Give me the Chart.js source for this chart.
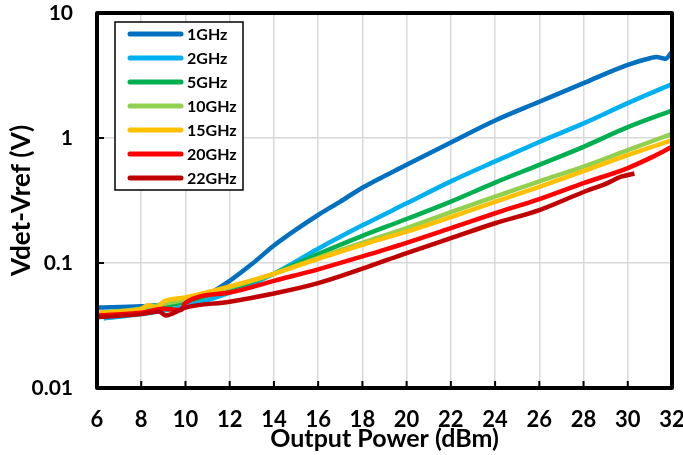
<!DOCTYPE html>
<html>
<head>
<meta charset="utf-8">
<script src="https://cdn.jsdelivr.net/npm/chart.js@4"></script>
<style>
  html, body { margin: 0; padding: 0; background: #fff; }
  #wrap { width: 683px; height: 455px; }
</style>
</head>
<body>
<div id="wrap"><canvas id="chart" width="683" height="455"></canvas></div>
<script>
const seriesNames = ['1GHz', '2GHz', '5GHz', '10GHz', '15GHz', '20GHz', '22GHz'];
const seriesColors = ['#0070C0', '#00B0F0', '#00B050', '#92D050', '#FFC000', '#FF0000', '#C00000'];

// output power (dBm) and Vdet-Vref (V) for each frequency
const p1 = [6, 8, 10, 11, 12, 13, 14, 15, 16, 17, 18, 20, 22, 24, 26, 28, 30, 31, 31.3, 31.7, 32];
const v1 = [0.044, 0.045, 0.049, 0.056, 0.072, 0.098, 0.138, 0.185, 0.242, 0.31, 0.40, 0.61, 0.92, 1.38, 1.95, 2.75, 3.85, 4.35, 4.45, 4.3, 4.9];

const p2 = [6.3, 8, 10, 12, 14, 16, 18, 20, 22, 24, 26, 28, 30, 32];
const v2 = [0.036, 0.039, 0.045, 0.058, 0.082, 0.13, 0.2, 0.3, 0.45, 0.65, 0.93, 1.31, 1.9, 2.7];

const p5 = [6, 8, 10, 12, 14, 16, 18, 20, 22, 24, 26, 28, 30, 32];
const v5 = [0.039, 0.042, 0.049, 0.062, 0.082, 0.118, 0.165, 0.225, 0.31, 0.44, 0.61, 0.85, 1.22, 1.66];

const p10 = [6, 8, 9, 10, 12, 14, 16, 18, 20, 22, 24, 26, 28, 30, 32];
const v10 = [0.040, 0.043, 0.047, 0.051, 0.064, 0.082, 0.11, 0.145, 0.19, 0.255, 0.34, 0.45, 0.59, 0.8, 1.08];

const p15 = [6, 8, 8.3, 8.7, 9, 10, 12, 14, 16, 18, 20, 22, 24, 26, 28, 30, 32];
const v15 = [0.040, 0.043, 0.046, 0.044, 0.049, 0.053, 0.065, 0.082, 0.108, 0.14, 0.178, 0.233, 0.308, 0.407, 0.543, 0.73, 0.96];

const p20 = [6, 8, 9, 9.8, 10, 12, 14, 16, 18, 20, 22, 24, 26, 28, 30, 31, 32];
const v20 = [0.038, 0.040, 0.043, 0.042, 0.048, 0.058, 0.072, 0.089, 0.113, 0.145, 0.19, 0.25, 0.324, 0.435, 0.575, 0.69, 0.85];

const p22 = [6, 8, 8.8, 9.1, 10, 12, 14, 16, 18, 20, 22, 24, 26, 28, 29, 29.7, 30.3];
const v22 = [0.037, 0.039, 0.041, 0.038, 0.044, 0.049, 0.057, 0.069, 0.09, 0.12, 0.158, 0.208, 0.265, 0.37, 0.43, 0.49, 0.52];

const xs = [p1, p2, p5, p10, p15, p20, p22];
const ys = [v1, v2, v5, v10, v15, v20, v22];

const yTickValues = [0.01, 0.1, 1, 10];
const yTickLabels = ['0.01', '0.1', '1', '10'];

const FONT = 'Lato, "DejaVu Sans", sans-serif';

const datasets = seriesNames.map((name, i) => ({
    label: name,
    data: xs[i].map((x, j) => ({ x: x, y: ys[i][j] })),
    borderColor: seriesColors[i],
    backgroundColor: seriesColors[i],
    borderWidth: 4.5,
    pointRadius: 0,
    cubicInterpolationMode: 'monotone',
    fill: false,
    order: seriesNames.length - i
}));

function noPad(scale) {
    scale.paddingTop = 0;
    scale.paddingBottom = 0;
    scale.paddingLeft = 0;
    scale.paddingRight = 0;
}

// black frame + inner tick marks
const framePlugin = {
    id: 'frame',
    afterDatasetsDraw(chart) {
        const { ctx, chartArea: a, scales } = chart;
        ctx.save();
        ctx.strokeStyle = '#000';
        ctx.lineWidth = 2;
        ctx.beginPath();
        scales.x.ticks.forEach(t => {
            const x = scales.x.getPixelForValue(t.value);
            ctx.moveTo(x, a.bottom);
            ctx.lineTo(x, a.bottom - 7);
        });
        scales.y.ticks.forEach(t => {
            const y = scales.y.getPixelForValue(t.value);
            ctx.moveTo(a.left, y);
            ctx.lineTo(a.left + 7, y);
        });
        ctx.stroke();
        ctx.lineWidth = 4;
        ctx.lineJoin = 'round';
        ctx.strokeRect(a.left, a.top, a.right - a.left, a.bottom - a.top);
        ctx.restore();
    }
};

// legend box inside the plot
const legendPlugin = {
    id: 'boxLegend',
    afterDraw(chart) {
        const ctx = chart.ctx;
        const bx = 115, by = 22, bw = 128, bh = 168;
        ctx.save();
        ctx.fillStyle = '#fff';
        ctx.fillRect(bx, by, bw, bh);
        ctx.strokeStyle = '#000';
        ctx.lineWidth = 1.5;
        ctx.strokeRect(bx, by, bw, bh);
        ctx.font = 'bold 16px ' + FONT;
        ctx.textBaseline = 'middle';
        ctx.lineCap = 'round';
        chart.data.datasets.forEach((ds, i) => {
            const y = 34 + i * 24;
            ctx.strokeStyle = ds.borderColor;
            ctx.lineWidth = 5;
            ctx.beginPath();
            ctx.moveTo(130, y);
            ctx.lineTo(181, y);
            ctx.stroke();
            ctx.fillStyle = '#000';
            ctx.fillText(ds.label, 187, y + 1);
        });
        ctx.restore();
    }
};

new Chart(document.getElementById('chart'), {
    type: 'line',
    data: { datasets: datasets },
    options: {
        responsive: false,
        animation: false,
        layout: { padding: { left: 0, right: 11, top: 13, bottom: 0 } },
        plugins: {
            legend: { display: false },
            tooltip: { enabled: false }
        },
        scales: {
            x: {
                type: 'linear',
                min: 6,
                max: 32,
                ticks: {
                    stepSize: 2,
                    padding: 19,
                    color: '#000',
                    font: { family: FONT, size: 22, weight: 'bold' }
                },
                grid: { color: '#d9d9d9', lineWidth: 1.5, drawTicks: false },
                border: { display: false },
                title: {
                    display: true,
                    text: 'Output Power (dBm)',
                    color: '#000',
                    font: { family: FONT, size: 25, weight: 'bold' },
                    padding: { top: 0, bottom: 1 }
                },
                afterFit(scale) { scale.height = 67; noPad(scale); }
            },
            y: {
                type: 'logarithmic',
                min: 0.01,
                max: 10,
                afterBuildTicks(scale) {
                    scale.ticks = yTickValues.map(v => ({ value: v }));
                },
                ticks: {
                    padding: 24,
                    color: '#000',
                    font: { family: FONT, size: 21, weight: 'bold' },
                    callback: (v) => {
                        const k = yTickValues.indexOf(v);
                        return k >= 0 ? yTickLabels[k] : '';
                    }
                },
                grid: { color: '#d9d9d9', lineWidth: 1.5, drawTicks: false },
                border: { display: false },
                title: {
                    display: true,
                    text: 'Vdet-Vref (V)',
                    color: '#000',
                    font: { family: FONT, size: 26, weight: 'bold' },
                    padding: { top: 6, bottom: 0 }
                },
                afterFit(scale) { scale.width = 97; noPad(scale); }
            }
        }
    },
    plugins: [framePlugin, legendPlugin]
});
</script>
</body>
</html>
